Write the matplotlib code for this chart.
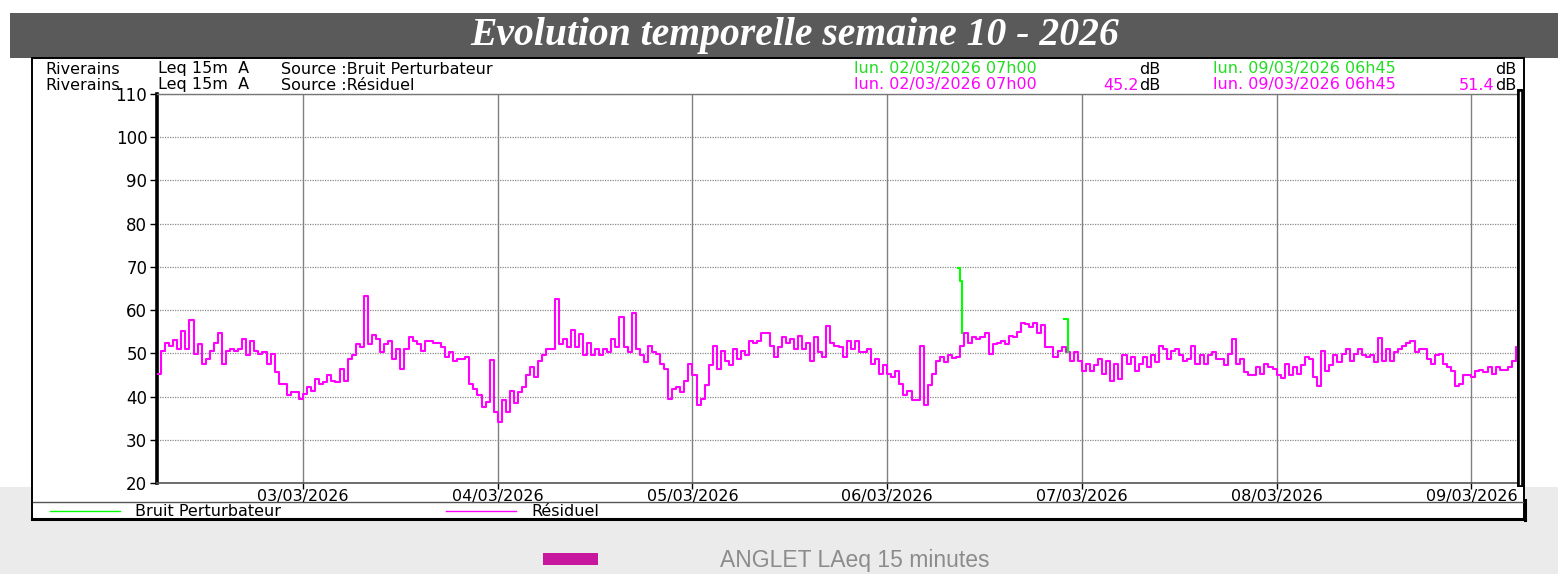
import matplotlib
matplotlib.use("Agg")
import matplotlib.pyplot as plt
from matplotlib.patches import Rectangle
from matplotlib.lines import Line2D
import pandas as pd

W, H = 1558, 574

# ---------------- data (Leq 15m A, 30-min resolution) ----------------
# each list covers 24 h starting at 06h00 of the named day
res_02_03 = [45.2, 50.6, 52.5, 51.8, 53.0, 51.0, 55.2, 51.0, 57.7, 49.8, 52.1, 47.5,
             48.7, 50.6, 52.5, 54.7, 47.5, 50.6, 51.0, 50.6, 51.0, 53.3, 49.6, 52.9,
             50.6, 49.8, 50.2, 47.5, 49.8, 45.6, 43.0, 43.0, 40.3, 41.0, 41.0, 39.5,
             40.7, 42.2, 41.4, 44.1, 43.0, 43.3, 44.9, 43.7, 43.3, 46.4, 43.7, 48.7]
res_03_03 = [49.5, 52.1, 51.4, 63.3, 52.1, 54.2, 53.3, 50.2, 52.1, 52.9, 48.7, 51.0,
             46.4, 51.0, 53.7, 52.9, 52.1, 50.6, 52.9, 52.9, 52.5, 52.5, 51.4, 49.1,
             50.2, 48.3, 48.7, 48.7, 49.1, 43.0, 41.8, 40.3, 37.6, 38.7, 48.5, 36.4,
             34.1, 39.1, 36.4, 41.4, 38.4, 41.0, 42.2, 44.9, 46.8, 44.5, 48.3, 49.5]
res_04_03 = [51.0, 51.0, 62.6, 52.1, 53.3, 51.4, 55.4, 51.4, 54.4, 49.5, 52.5, 49.5,
             51.0, 49.6, 51.0, 50.2, 53.3, 51.4, 58.5, 51.4, 50.2, 59.3, 51.0, 49.6,
             47.9, 51.8, 50.2, 49.8, 47.5, 46.4, 39.5, 41.8, 42.2, 41.0, 43.7, 47.5,
             45.0, 38.0, 39.5, 42.6, 47.2, 51.8, 46.4, 50.6, 48.3, 47.2, 51.0, 48.7]
res_05_03 = [50.6, 49.5, 52.9, 52.5, 52.9, 54.7, 54.7, 51.8, 49.1, 51.4, 53.7, 52.5,
             53.3, 51.0, 54.1, 51.0, 52.5, 48.3, 53.7, 50.2, 49.1, 56.4, 52.5, 51.8,
             51.4, 49.1, 52.9, 51.0, 52.9, 50.2, 50.2, 51.0, 47.5, 48.7, 45.2, 47.2,
             45.2, 44.5, 46.0, 43.0, 40.3, 41.3, 39.1, 39.1, 51.8, 38.0, 42.6, 45.2]
res_06_03 = [48.3, 49.1, 47.9, 49.5, 49.0, 49.1, 51.8, 54.8, 52.5, 53.7, 53.3, 53.7,
             54.8, 49.8, 52.1, 52.5, 52.9, 52.1, 53.9, 53.7, 54.9, 57.1, 56.8, 56.0,
             57.0, 54.8, 56.5, 51.4, 51.4, 49.1, 50.6, 51.4, 50.2, 48.3, 50.2, 48.3,
             46.0, 47.5, 46.0, 47.2, 48.7, 45.2, 48.3, 43.7, 47.5, 44.1, 49.5, 47.5]
res_07_03 = [49.1, 46.0, 47.5, 49.1, 46.8, 49.5, 47.9, 51.8, 51.0, 48.7, 50.6, 51.0,
             49.5, 48.3, 48.7, 51.8, 47.5, 49.5, 47.5, 49.5, 50.2, 48.7, 48.7, 47.2,
             49.8, 53.3, 47.5, 48.7, 45.6, 44.9, 44.9, 46.8, 45.2, 47.5, 46.8, 46.4,
             44.9, 44.3, 47.5, 44.9, 46.8, 45.2, 47.2, 49.1, 48.7, 44.5, 42.5, 50.6]
res_08_03 = [46.0, 47.2, 49.5, 47.9, 49.8, 51.0, 48.3, 49.8, 51.1, 49.5, 49.1, 49.5,
             47.9, 53.5, 48.3, 51.0, 48.3, 50.2, 51.0, 51.8, 52.5, 52.9, 50.2, 51.0,
             51.0, 48.7, 47.5, 49.5, 49.8, 47.5, 46.8, 46.0, 42.5, 43.0, 44.9, 45.0,
             44.5, 46.0, 46.2, 45.6, 46.8, 45.2, 46.8, 46.2, 46.2, 46.8, 48.3, 51.4]

# Bruit Perturbateur (disturbing-noise) events
perturb_1_times = ["2026-03-06 08:45", "2026-03-06 09:00", "2026-03-06 09:15"]
perturb_1_db = [69.8, 66.7, 54.8]
perturb_2_times = ["2026-03-06 21:45", "2026-03-06 22:15"]
perturb_2_db = [58.0, 50.4]

day_labels = ["03/03/2026", "04/03/2026", "05/03/2026", "06/03/2026",
              "07/03/2026", "08/03/2026", "09/03/2026"]
y_ticks = [20, 30, 40, 50, 60, 70, 80, 90, 100, 110]

title = "Evolution temporelle semaine 10 - 2026"
start_label = "lun. 02/03/2026 07h00"
end_label = "lun. 09/03/2026 06h45"
res_first, res_last = "45.2", "51.4"
bottom_label = "ANGLET LAeq 15 minutes"

MAG = "#ff00ff"
GRN = "#00ff00"
GRN_TXT = "#22dd22"

# ---------------- figure ----------------
fig = plt.figure(figsize=(W / 100, H / 100), dpi=100)
fig.patch.set_facecolor("white")


def fx(x):
    return x / W


def fy(y):
    return 1 - y / H


def rect(x0, y0, x1, y1, **kw):
    r = Rectangle((fx(x0), fy(y1)), fx(x1) - fx(x0), fy(y0) - fy(y1),
                  transform=fig.transFigure, **kw)
    fig.patches.append(r)
    return r


def hline(x0, x1, y, **kw):
    fig.lines.append(Line2D([fx(x0), fx(x1)], [fy(y), fy(y)], transform=fig.transFigure, **kw))


def vline(x, y0, y1, **kw):
    fig.lines.append(Line2D([fx(x), fx(x)], [fy(y0), fy(y1)], transform=fig.transFigure, **kw))


# background bands
rect(0, 487, W, H, facecolor="#ebebeb", edgecolor="none", zorder=-3)
rect(10, 13, W, 58, facecolor="#5a5a5a", edgecolor="none", zorder=-2)
fig.text(fx(795), fy(36), title, ha="center", va="center", color="white",
         fontsize=28.5, family="Liberation Serif", weight="bold", style="italic")

# chart frame
rect(32, 58, 1524, 519, facecolor="white", edgecolor="black", linewidth=1.4, zorder=-1)
hline(33, 1523, 502, color="#555555", lw=1.0, zorder=2)
hline(32, 1525, 519, color="black", lw=2.2, zorder=2)
vline(1524.5, 500, 520, color="black", lw=2.2, zorder=2)

# header lines
HFS = 11.5
hfont = dict(family="DejaVu Sans", fontsize=HFS, va="center")
for yy, src, col in [(69, "Source :Bruit Perturbateur", GRN_TXT), (85, "Source :Résiduel", MAG)]:
    fig.text(fx(45), fy(yy), "Riverains", color="black", **hfont)
    fig.text(fx(158), fy(yy), "Leq 15m  A", color="black", **hfont)
    fig.text(fx(281), fy(yy), src, color="black", **hfont)
    fig.text(fx(854), fy(yy), start_label, color=col, **hfont)
    fig.text(fx(1213), fy(yy), end_label, color=col, **hfont)
    db1 = fig.text(fx(1160), fy(yy), "dB", color="black", ha="right", **hfont)
    db2 = fig.text(fx(1516), fy(yy), "dB", color="black", ha="right", **hfont)
    if col == MAG:
        for dbt, val in [(db1, res_first), (db2, res_last)]:
            an = plt.Annotation(val, xy=(0, 0.5), xycoords=dbt, ha="right", va="center",
                                color=MAG, family="DejaVu Sans", fontsize=HFS)
            an.set_figure(fig)
            fig.texts.append(an)

# legend row
hline(50, 120, 511, color=GRN, lw=1.0)
fig.text(fx(135), fy(511), "Bruit Perturbateur", family="DejaVu Sans", fontsize=11.5,
         va="center", color="black")
hline(446, 516, 511, color=MAG, lw=1.0)
fig.text(fx(531), fy(511), "Résiduel", family="DejaVu Sans", fontsize=11.5,
         va="center", color="black")

# bottom caption
rect(543, 553, 598, 565, facecolor="#c8179f", edgecolor="none", zorder=1)
fig.text(fx(720), fy(560), bottom_label, family="Liberation Sans", fontsize=16.5,
         va="center", ha="left", color="#8c8c8c")

# ---------------- axes ----------------
L, R, T, B = 157, 1520, 94, 483
ax = fig.add_axes([fx(L), fy(B), fx(R) - fx(L), fy(T) - fy(B)])
ax.set_zorder(5)
ax.set_facecolor("white")

times = pd.date_range("2026-03-02 06:00", periods=336, freq="30min")
vals = res_02_03 + res_03_03 + res_04_03 + res_05_03 + res_06_03 + res_07_03 + res_08_03
t_end = pd.Timestamp("2026-03-09 06:00")
ax.plot(list(times) + [t_end], vals + [vals[-1]], drawstyle="steps-post",
        color=MAG, lw=1.5, zorder=3)
ax.plot(pd.to_datetime(perturb_1_times), perturb_1_db, drawstyle="steps-post",
        color=GRN, lw=1.5, zorder=4)
ax.plot(pd.to_datetime(perturb_2_times), perturb_2_db, drawstyle="steps-post",
        color=GRN, lw=1.5, zorder=4)

ax.set_xlim(pd.Timestamp("2026-03-02 06:00"), t_end)
ax.set_ylim(20, 110)
ax.set_yticks(y_ticks)
ax.set_yticklabels([str(v) for v in y_ticks])
ax.set_xticks(pd.to_datetime(day_labels, dayfirst=True))
ax.set_xticklabels(day_labels)

ax.tick_params(axis="y", direction="out", length=5, width=1, pad=2, labelsize=12,
               colors="black")
ax.tick_params(axis="x", direction="out", length=4, width=1, pad=0.5, labelsize=11.5,
               colors="black")
for lab in ax.get_xticklabels() + ax.get_yticklabels():
    lab.set_family("DejaVu Sans")

ax.yaxis.grid(True, linestyle=(0, (1, 1)), color="#8a8a8a", lw=0.9)
ax.xaxis.grid(True, linestyle="-", color="#808080", lw=1.0)
ax.set_axisbelow(True)

ax.spines["left"].set_linewidth(2.6)
ax.spines["left"].set_color("black")
ax.spines["top"].set_linewidth(1.0)
ax.spines["top"].set_color("#777777")
ax.spines["bottom"].set_linewidth(1.2)
ax.spines["bottom"].set_color("#555555")
ax.spines["right"].set_visible(False)

# double right border of the plot
vline(R, 92, 484, color="black", lw=4.3, zorder=10)
vline(R, 92, 484, color="white", lw=1.0, zorder=11)

fig.savefig("out.png", dpi=100)
